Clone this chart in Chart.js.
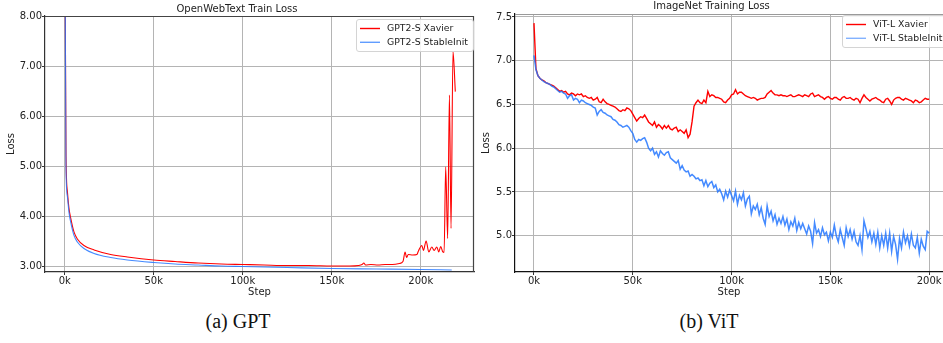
<!DOCTYPE html>
<html><head><meta charset="utf-8">
<script src="https://cdn.jsdelivr.net/npm/chart.js@4.4.1/dist/chart.umd.min.js"></script>
<style>
html,body{margin:0;padding:0;background:#fff;width:943px;height:343px;overflow:hidden;position:relative}
#c1{position:absolute;left:0;top:0}
#c2{position:absolute;left:480px;top:0}
.cap{position:absolute;font-family:"Liberation Serif",serif;font-size:20px;line-height:24px;color:#111;top:309px;white-space:nowrap;transform:translateX(-50%)}
</style></head><body>
<canvas id="c1" width="480" height="300"></canvas>
<canvas id="c2" width="463" height="300"></canvas>
<div class="cap" style="left:238px">(a) GPT</div>
<div class="cap" style="left:709px">(b) ViT</div>
<script>
// ---------- (a) GPT: OpenWebText train loss ----------
const gptXavierSteps = [0, 350, 740, 1500, 2400, 3400, 5200, 7100, 10800, 16500, 25800, 35200, 50000, 62000, 75000, 88000, 100000, 112000, 125000, 137000, 150000, 160000, 165000, 167000, 168000, 169000, 172000, 176000, 180000, 184000, 188000, 190000, 191200, 192000, 193000, 195500, 197800, 198700, 200600, 201500, 203000, 204500, 206200, 207500, 209000, 210100, 211200, 212400, 213100, 214000, 215100, 216100, 217000, 218100, 219400];
const gptXavierLoss  = [10.9, 8.0, 5.2, 4.5, 4.16, 3.96, 3.69, 3.55, 3.42, 3.33, 3.24, 3.19, 3.13, 3.10, 3.07, 3.05, 3.04, 3.03, 3.02, 3.02, 3.01, 3.01, 3.02, 3.04, 3.07, 3.03, 3.04, 3.03, 3.04, 3.04, 3.06, 3.10, 3.29, 3.18, 3.24, 3.23, 3.24, 3.31, 3.42, 3.32, 3.51, 3.29, 3.39, 3.32, 3.39, 3.29, 3.40, 3.29, 3.28, 4.99, 3.56, 6.42, 3.76, 7.29, 6.49];
const gptStableSteps = [0, 350, 700, 1500, 2400, 3400, 5200, 7100, 10800, 16500, 25800, 35200, 50000, 62000, 75000, 88000, 100000, 125000, 150000, 175000, 200000, 217400];
const gptStableLoss  = [10.9, 8.0, 5.0, 4.4, 4.08, 3.88, 3.62, 3.49, 3.36, 3.26, 3.18, 3.13, 3.08, 3.05, 3.03, 3.01, 3.00, 2.98, 2.96, 2.95, 2.94, 2.93];
const gptXTicks = [0, 50000, 100000, 150000, 200000];
const gptYTicks = [3, 4, 5, 6, 7, 8];

// ---------- (b) ViT: ImageNet training loss (one reading per 1k steps) ----------
const vitStepK = Array.from({length: 201}, (_, i) => i);
const vitXavierLoss = [
 7.43, 6.91, 6.83, 6.80, 6.78, 6.77, 6.75, 6.74, 6.73, 6.72,
 6.71, 6.69, 6.67, 6.65, 6.66, 6.64, 6.65, 6.62, 6.61, 6.63,
 6.62, 6.60, 6.62, 6.61, 6.62, 6.59, 6.60, 6.58, 6.57, 6.58,
 6.55, 6.56, 6.58, 6.53, 6.52, 6.56, 6.53, 6.51, 6.50, 6.49,
 6.48, 6.47, 6.45, 6.43, 6.42, 6.44, 6.43, 6.46, 6.45, 6.43,
 6.39, 6.35, 6.31, 6.34, 6.36, 6.35, 6.38, 6.34, 6.30, 6.28,
 6.26, 6.30, 6.24, 6.27, 6.25, 6.22, 6.26, 6.23, 6.26, 6.22,
 6.21, 6.23, 6.24, 6.19, 6.21, 6.19, 6.17, 6.21, 6.12, 6.16,
 6.30, 6.48, 6.52, 6.55, 6.52, 6.51, 6.55, 6.52, 6.65, 6.59,
 6.61, 6.60, 6.58, 6.58, 6.57, 6.56, 6.53, 6.52, 6.55, 6.57,
 6.61, 6.62, 6.67, 6.62, 6.64, 6.64, 6.62, 6.60, 6.59, 6.58,
 6.57, 6.58, 6.57, 6.55, 6.56, 6.57, 6.57, 6.58, 6.62, 6.64,
 6.66, 6.63, 6.61, 6.61, 6.60, 6.61, 6.60, 6.60, 6.59, 6.60,
 6.61, 6.59, 6.59, 6.60, 6.61, 6.60, 6.59, 6.61, 6.60, 6.59,
 6.62, 6.63, 6.59, 6.60, 6.61, 6.59, 6.58, 6.56, 6.58, 6.59,
 6.57, 6.56, 6.58, 6.58, 6.56, 6.55, 6.58, 6.59, 6.57, 6.57,
 6.58, 6.56, 6.55, 6.57, 6.56, 6.52, 6.57, 6.61, 6.58, 6.56,
 6.54, 6.56, 6.57, 6.58, 6.56, 6.55, 6.53, 6.52, 6.56, 6.57,
 6.54, 6.50, 6.55, 6.57, 6.58, 6.58, 6.56, 6.55, 6.57, 6.56,
 6.55, 6.54, 6.52, 6.55, 6.54, 6.52, 6.53, 6.55, 6.57, 6.56,
 6.56];
const vitStableLoss = [
 7.06, 6.90, 6.83, 6.80, 6.78, 6.76, 6.75, 6.74, 6.73, 6.71,
 6.70, 6.68, 6.66, 6.64, 6.65, 6.63, 6.62, 6.57, 6.60, 6.61,
 6.55, 6.57, 6.56, 6.52, 6.55, 6.54, 6.52, 6.51, 6.50, 6.49,
 6.47, 6.46, 6.38, 6.42, 6.44, 6.41, 6.40, 6.38, 6.37, 6.36,
 6.33, 6.32, 6.30, 6.27, 6.26, 6.24, 6.25, 6.26, 6.24, 6.20,
 6.17, 6.10, 6.07, 6.10, 6.09, 6.11, 6.12, 6.07, 6.00, 5.97,
 6.00, 5.93, 5.96, 5.90, 5.97, 5.94, 5.92, 5.95, 5.96, 5.89,
 5.87, 5.85, 5.83, 5.86, 5.76, 5.80, 5.75, 5.73, 5.74, 5.68,
 5.70, 5.68, 5.65, 5.66, 5.63, 5.64, 5.57, 5.63, 5.56, 5.60,
 5.62, 5.55, 5.58, 5.50, 5.53, 5.48, 5.41, 5.51, 5.44, 5.52,
 5.46, 5.40, 5.51, 5.36, 5.46, 5.41, 5.49, 5.34, 5.42, 5.45,
 5.25, 5.34, 5.30, 5.36, 5.24, 5.32, 5.20, 5.13, 5.34, 5.22,
 5.28, 5.17, 5.24, 5.13, 5.20, 5.14, 5.22, 5.12, 5.19, 5.07,
 5.16, 5.11, 5.20, 5.06, 5.15, 5.08, 5.14, 5.08, 5.02, 5.11,
 5.05, 4.91, 5.15, 5.03, 5.07, 4.99, 5.09, 5.01, 5.04, 4.94,
 5.04, 4.98, 5.12, 5.00, 4.93, 5.07, 4.98, 4.89, 5.09, 4.99,
 5.07, 4.96, 5.05, 4.93, 4.89, 5.00, 4.84, 5.17, 5.08, 4.98,
 5.05, 4.93, 5.03, 4.90, 5.04, 4.86, 5.00, 4.89, 5.03, 4.86,
 5.03, 4.82, 4.99, 4.90, 4.73, 4.97, 4.86, 5.04, 4.92, 5.00,
 4.88, 5.02, 4.89, 4.86, 4.98, 4.80, 4.96, 4.88, 4.84, 5.05,
 5.03];
const vitXTicks = [0, 50000, 100000, 150000, 200000];
const vitYTicks = [5.0, 5.5, 6.0, 6.5, 7.0, 7.5];

// ---------- styling ----------
const RED = '#ff0000';
const BLUE = 'rgba(35,118,255,0.85)';
Chart.defaults.font.family = '"DejaVu Sans", sans-serif';
Chart.defaults.font.size = 10;
Chart.defaults.color = '#222';

function pts(xs, ys, scale) { return xs.map((x, i) => ({x: x * scale, y: ys[i]})); }

const spines = {
  id: 'spines',
  afterDatasetsDraw(chart, args, o) {
    const {ctx, chartArea: a} = chart;
    ctx.save();
    ctx.lineWidth = 1.2;
    ctx.strokeStyle = o.topColor;
    ctx.beginPath(); ctx.moveTo(a.left, a.top + 0.5); ctx.lineTo(a.right, a.top + 0.5); ctx.stroke();
    if (o.right) {
      ctx.strokeStyle = o.rightColor;
      ctx.beginPath(); ctx.moveTo(a.right - 0.5, a.top); ctx.lineTo(a.right - 0.5, a.bottom); ctx.stroke();
    }
    ctx.restore();
  }
};

const legendBox = {
  id: 'legendBox',
  afterDraw(chart, args, o) {
    const {ctx, chartArea: a} = chart;
    const x = Math.round(a.right + o.dx), y = Math.round(a.top + o.dy);
    ctx.save();
    ctx.font = '9.3px "DejaVu Sans", sans-serif';
    const tw = Math.max(...chart.data.datasets.map(d => ctx.measureText(d.label).width));
    const w = 31 + tw + 5, h = 32;
    ctx.beginPath();
    ctx.roundRect(x + 0.5, y + 0.5, w, h, 2.5);
    ctx.fillStyle = 'rgba(255,255,255,0.85)'; ctx.fill();
    ctx.strokeStyle = '#d4d4d4'; ctx.lineWidth = 1; ctx.stroke();
    chart.data.datasets.forEach((d, i) => {
      const cy = y + 9.5 + i * 13.8;
      ctx.strokeStyle = d.legendColor; ctx.lineWidth = 1.4;
      ctx.beginPath(); ctx.moveTo(x + 4, cy); ctx.lineTo(x + 24, cy); ctx.stroke();
      ctx.fillStyle = '#222'; ctx.textBaseline = 'middle'; ctx.textAlign = 'left';
      ctx.fillText(d.label, x + 31, cy);
    });
    ctx.restore();
  }
};

function scales(o) {
  const grid = {color: '#b4b4b4', lineWidth: 1, drawTicks: true, tickLength: 3, tickColor: '#333'};
  return {
    x: {
      type: 'linear', min: o.xmin, max: o.xmax,
      afterBuildTicks: s => { s.ticks = o.xTicks.map(v => ({value: v})); },
      afterFit: s => { s.height = o.xh; s.paddingLeft = 0; s.paddingRight = 0; },
      ticks: {callback: v => (v / 1000) + 'k', padding: 0, maxRotation: 0, autoSkip: false},
      grid: grid,
      border: {color: o.axisColor, width: 1.2},
      title: {display: true, text: 'Step', padding: {top: 0, bottom: 2}}
    },
    y: {
      type: 'linear', min: o.ymin, max: o.ymax,
      afterBuildTicks: s => { s.ticks = o.yTicks.map(v => ({value: v})); },
      afterFit: s => { s.width = o.yw; s.paddingTop = 0; s.paddingBottom = 0; },
      ticks: {callback: v => Number(v).toFixed(o.dec), padding: 0, autoSkip: false},
      grid: grid,
      border: {color: o.axisColor, width: 1.2},
      title: {display: true, text: 'Loss', padding: {top: o.ytp, bottom: 0}}
    }
  };
}

new Chart(document.getElementById('c1'), {
  type: 'line',
  data: {datasets: [
    {label: 'GPT2-S Xavier', data: pts(gptXavierSteps, gptXavierLoss, 1), borderColor: RED, legendColor: RED, borderWidth: 1.1, pointRadius: 0, cubicInterpolationMode: 'monotone', order: 1},
    {label: 'GPT2-S StableInit', data: pts(gptStableSteps, gptStableLoss, 1), borderColor: BLUE, legendColor: 'rgba(30,115,255,0.7)', borderWidth: 1.1, pointRadius: 0, cubicInterpolationMode: 'monotone', order: 0}
  ]},
  options: {
    responsive: false, animation: false, devicePixelRatio: 1,
    layout: {padding: {left: 0, right: 6, top: 0, bottom: 0}},
    scales: scales({xmin: -11070, xmax: 229900, xTicks: gptXTicks, ymin: 2.89, ymax: 8.0, yTicks: gptYTicks, dec: 2, xh: 28, yw: 45, ytp: 5, axisColor: '#333'}),
    plugins: {
      legend: {display: false}, tooltip: {enabled: false},
      title: {display: true, text: 'OpenWebText Train Loss', font: {size: 10, weight: 'normal'}, color: '#222', padding: {top: 3.5, bottom: 0.5}},
      spines: {topColor: '#444', right: true, rightColor: '#444'},
      legendBox: {dx: -118, dy: 3}
    }
  },
  plugins: [spines, legendBox]
});

new Chart(document.getElementById('c2'), {
  type: 'line',
  data: {datasets: [
    {label: 'ViT-L Xavier', data: pts(vitStepK, vitXavierLoss, 1000), borderColor: RED, legendColor: RED, borderWidth: 1.4, pointRadius: 0, tension: 0, order: 1},
    {label: 'ViT-L StableInit', data: pts(vitStepK, vitStableLoss, 1000), borderColor: BLUE, legendColor: 'rgba(30,115,255,0.55)', borderWidth: 1.5, pointRadius: 0, tension: 0, order: 0}
  ]},
  options: {
    responsive: false, animation: false, devicePixelRatio: 1,
    layout: {padding: {left: 0, right: 0, top: 0, bottom: 0}},
    scales: scales({xmin: -9600, xmax: 207000, xTicks: vitXTicks, ymin: 4.585, ymax: 7.534, yTicks: vitYTicks, dec: 1, xh: 28, yw: 35, ytp: 0, axisColor: '#111'}),
    plugins: {
      legend: {display: false}, tooltip: {enabled: false},
      title: {display: true, text: 'ImageNet Training Loss', font: {size: 10, weight: 'normal'}, color: '#222', padding: {top: 0, bottom: 2}},
      spines: {topColor: '#9a9a9a', right: false},
      legendBox: {dx: -101, dy: 1}
    }
  },
  plugins: [spines, legendBox]
});
</script></body></html>
